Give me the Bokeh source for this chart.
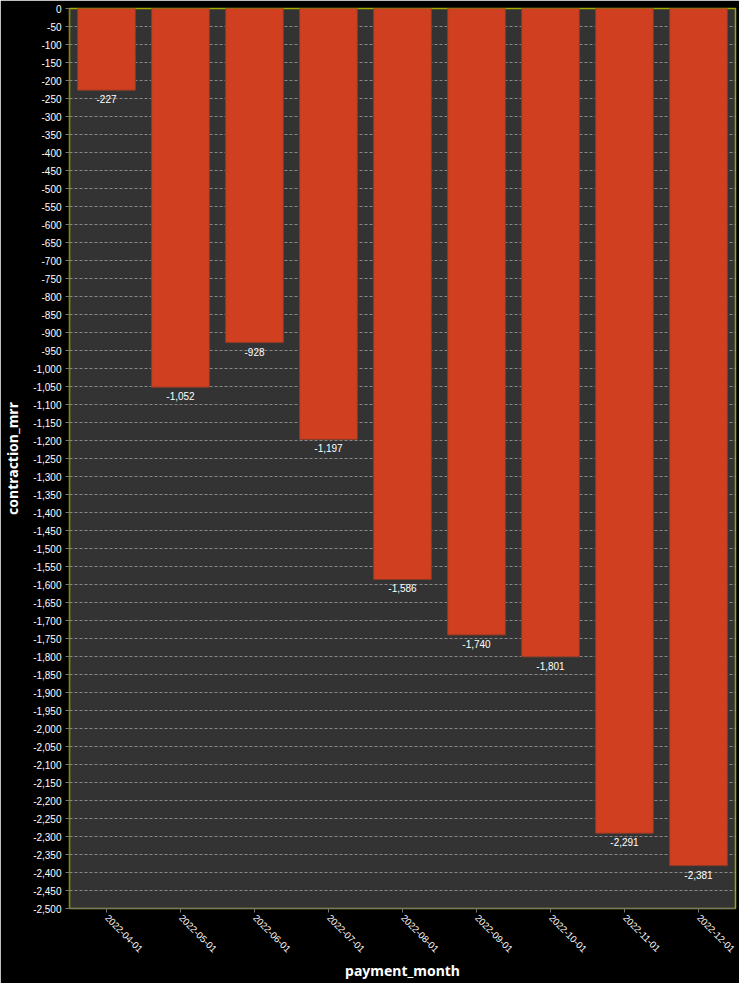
import math
from bokeh.plotting import figure
from bokeh.models import ColumnDataSource, NumeralTickFormatter, FixedTicker, LabelSet, Range1d
from bokeh.core.properties import value
from bokeh.embed import file_html
from bokeh.resources import INLINE

months = ["2022-04-01", "2022-05-01", "2022-06-01", "2022-07-01", "2022-08-01",
          "2022-09-01", "2022-10-01", "2022-11-01", "2022-12-01"]
contraction_mrr = [-227, -1052, -928, -1197, -1586, -1740, -1801, -2291, -2381]
y_ticks = list(range(-2500, 1, 50))

labels = [f"{v:,}" for v in contraction_mrr]
src = ColumnDataSource(dict(month=months, val=contraction_mrr, lab=labels))

FONT = "Liberation Sans"
TITLE_FONT = "Noto Sans"

p = figure(x_range=months, y_range=Range1d(-2500, 0), width=739, height=983,
           output_backend="svg", toolbar_location=None,
           background_fill_color="#333333", border_fill_color="#000000",
           min_border_top=8, min_border_right=4, min_border_left=0, min_border_bottom=0)
p.outline_line_color = "#a8a800"
p.outline_line_width = 1.5

p.vbar(x="month", top=0, bottom="val", width=0.78, source=src,
       fill_color="#d04020", line_color="#8a3a28", line_width=1)

lbl = LabelSet(x="month", y="val", text="lab", source=src, text_align="center",
               text_baseline="top", y_offset=-5, text_color="#ffffff",
               text_font_size="10px", text_font=value(FONT))
p.add_layout(lbl)

p.x_range.range_padding = 0
p.yaxis.ticker = FixedTicker(ticks=y_ticks)
p.yaxis.formatter = NumeralTickFormatter(format="0,0")
p.xaxis.major_label_orientation = -math.pi / 4

for ax in (p.xaxis[0], p.yaxis[0]):
    ax.axis_line_color = "#777777"
    ax.major_tick_line_color = "#777777"
    ax.minor_tick_line_color = None
    ax.major_label_text_color = "#ffffff"
    ax.major_label_text_font = FONT
    ax.major_label_text_font_size = "10px"
    ax.axis_label_text_color = "#ffffff"
    ax.axis_label_text_font = TITLE_FONT
    ax.axis_label_text_font_style = "bold"
    ax.axis_label_text_font_size = "14px"
    ax.major_tick_in = 0
    ax.major_tick_out = 4
    ax.axis_line_width = 1

p.xaxis.major_label_text_font_size = "9.5px"
p.xaxis.axis_label = "payment_month"
p.yaxis.axis_label = "contraction_mrr"
p.xaxis.major_label_standoff = 4
p.yaxis.major_label_standoff = 4
p.yaxis.axis_label_standoff = 8
p.xaxis.axis_label_standoff = 3

p.xgrid.grid_line_color = None
p.ygrid.grid_line_color = "#bbbbbb"
p.ygrid.grid_line_dash = "3 2"
p.ygrid.grid_line_alpha = 0.8
p.ygrid.grid_line_width = 0.8

open("out.html", "w").write(file_html(p, INLINE))
